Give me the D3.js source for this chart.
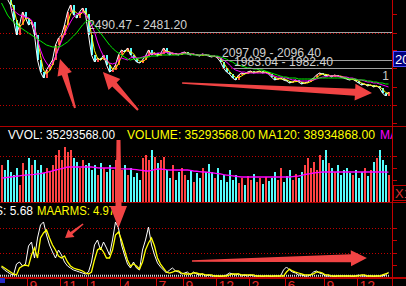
<!DOCTYPE html>
<html><head><meta charset="utf-8">
<script src="https://cdn.jsdelivr.net/npm/d3@7"></script>
<style>html,body{margin:0;padding:0;background:#000;overflow:hidden}svg{display:block}</style>
</head><body>
<script>
// ---------- DATA ----------
const closes = [
 3050,2980,2950,2870,2659,2448,2589,2771,2687,2589,
 2631,2448,2097,1928,1844,1957,2027,2097,2308,2406,
 2448,2589,2771,2870,2729,2687,2771,2828,2743,2448,
 2167,2069,2125,2097,2167,2027,1928,1957,2027,2167,
 2238,2209,2266,2167,2125,2069,2055,2097,2153,2238,
 2167,2195,2153,2181,2266,2209,2167,2195,2181,2167,
 2195,2209,2181,2167,2181,2167,2153,2181,2167,2153,
 2139,2153,2125,2069,1985,1928,1900,1844,1816,1886,
 1914,1900,1928,1942,1914,1928,1942,1914,1928,1900,
 1858,1816,1830,1844,1816,1802,1774,1788,1816,1788,
 1760,1774,1788,1816,1844,1886,1914,1900,1872,1886,
 1858,1886,1872,1858,1844,1830,1816,1830,1802,1774,
 1746,1760,1732,1746,1718,1732,1704,1633,1591,1647
];
const maMid = [
 null,null,null,2828,2800,2757,2729,2715,2701,2687,
 2659,2547,2378,2238,2125,2055,1999,2055,2139,2252,
 2364,2462,2547,2631,2701,2743,2757,2771,2729,2673,
 2589,2490,2350,2238,2153,2097,2055,2041,2055,2097,
 2125,2111,2097,2125,2139,2125,2125,2139,2153,2167,
 2181,2181,2195,2195,2195,2209,2195,2195,2181,2181,
 2195,2195,2181,2181,2181,2167,2167,2181,2167,2167,
 2153,2153,2139,2125,2097,2069,2027,1985,1957,1942,
 1928,1928,1914,1914,1914,1914,1914,1914,1914,1900,
 1886,1872,1858,1858,1844,1844,1830,1816,1816,1802,
 1802,1802,1802,1816,1816,1830,1844,1858,1858,1872,
 1872,1872,1872,1858,1858,1858,1844,1844,1830,1816,
 1816,1802,1788,1788,1774,1774,1760,1746,1732,1718
];
const maLong = [
 2898,2814,2729,2673,2631,2589,2561,2533,2504,2476,
 2448,2420,2392,2364,2336,2308,2294,2280,2280,2280,
 2294,2322,2350,2392,2434,2476,2533,2589,2631,2659,
 2631,2589,2533,2476,2420,2364,2308,2266,2223,2195,
 2167,2139,2111,2097,2111,2111,2125,2125,2139,2139,
 2153,2153,2153,2167,2167,2167,2167,2167,2167,2167,
 2181,2181,2181,2181,2167,2167,2167,2167,2167,2167,
 2153,2153,2153,2139,2125,2111,2083,2069,2041,2027,
 2013,1999,1985,1985,1971,1971,1957,1957,1942,1928,
 1914,1900,1886,1872,1858,1858,1844,1844,1844,1830,
 1830,1830,1830,1830,1830,1844,1844,1844,1844,1844,
 1844,1844,1844,1844,1844,1844,1830,1830,1830,1816,
 1816,1816,1802,1802,1788,1788,1774,1774,1760,1760
];
const volumes = [
 48,41.6,54.6,39,35,44,22,50.7,41.6,57,
 48,54.6,41.6,48,37.7,44,39,48,61,67.6,
 54.6,71.5,65,67.6,57,52,44,54.6,48,50.7,
 41.6,48,35,50.7,44,39,48,41.6,54.6,67.6,
 41.6,48,35,44,32.5,37.7,28.6,57,61,54.6,
 67.6,58.5,50.7,54.6,58.5,41.6,31.2,48,28.6,39,
 44,35,28.6,41.6,26,37.7,31.2,44,39,49.4,
 39,31.2,44,28.6,35,26,41.6,28.6,35,24.7,
 31.2,22,33.8,28.6,36.4,26,31.2,23.4,32.5,27.3,
 31.2,39,28.6,44,26,33.8,41.6,28.6,36.4,31.2,
 39,48,57,44,52,41.6,61,54.6,67.6,50.7,
 44,39,48,35,41.6,44,37.7,35,41.6,31.2,
 39,44,33.8,41.6,52,57,67.6,54.6,48,35.29
];
const volMA = [
 31.2,31.5,32,32.5,33,33.5,34,34.5,35,35.3,
 35.6,36,36.5,37,37.7,38.5,39.5,40.5,41.6,42.5,
 43.5,44.5,45.5,45.5,45.5,45.5,45.5,45.5,45.5,45.5,
 45.5,45,44.5,44.2,44.2,44.2,44.2,44.2,44.2,43.5,
 43,43,42.9,42.9,42.5,42,41.5,41,40.3,40.3,
 41,42,42.9,42.9,42.5,42,41.6,41.6,41.6,41.6,
 41.6,41.6,41.6,41,40.3,40,39.5,39,39,38.5,
 38,37.5,37,36.5,35.5,35,34.5,34,33.5,33,
 32.5,32.5,32.5,32.5,32.5,32.5,32.5,32.5,32.5,32.5,
 32.5,32.5,32.5,32.5,32.5,32.5,32.5,33,33.5,33.8,
 34.5,35.5,36.4,37,37.7,38.2,38.6,39,39,39,
 39,39,39,39,39,39,39,39,39,39,
 39,39,39,39,39,39,39,39,38.9,38.93
];
const arms = [
 12.3,8.6,6.1,3.7,2.5,15.9,18.4,13.5,15.9,38.0,
 42.9,23.3,47.8,63.8,67.5,51.5,39.3,30.7,23.3,33.1,
 27.0,18.4,13.5,11.0,8.6,7.4,6.1,4.9,3.7,6.1,
 18.4,39.3,45.4,33.1,42.9,35.6,27.0,45.4,67.5,60.1,
 39.3,27.0,15.9,11.0,18.4,11.0,8.6,33.1,45.4,61.3,
 39.3,27.0,17.2,12.3,8.6,4.9,8.6,11.0,7.4,6.1,
 3.7,4.9,6.1,2.5,6.1,3.7,2.5,3.7,1.2,2.5,
 1.2,1.2,1.2,0.6,1.2,2.5,4.9,3.7,2.5,3.7,
 1.2,2.5,1.2,2.5,1.2,1.2,1.2,0.6,1.2,1.2,
 0.6,1.2,1.2,1.2,8.6,12.3,8.6,6.1,4.9,2.5,
 2.5,1.2,1.2,2.5,6.1,7.4,4.9,3.7,1.2,1.2,
 1.2,0.6,1.2,1.2,1.2,1.2,1.2,0.6,1.2,2.5,
 1.2,1.2,1.2,1.2,0.6,1.2,1.2,1.2,2.5,5.68
];
const maArms = [
 13.5,11.0,8.6,6.1,3.7,2.5,11.0,13.5,14.7,13.5,
 27.0,35.6,23.3,47.8,54.0,57.7,47.8,39.3,33.1,25.8,
 23.3,25.8,18.4,13.5,11.0,9.8,8.6,7.4,4.9,3.7,
 6.1,20.9,33.1,35.6,30.7,23.3,23.3,33.1,51.5,55.2,
 45.4,33.1,20.9,13.5,15.9,13.5,9.8,18.4,33.1,41.7,
 47.8,38.0,23.3,15.9,11.0,6.1,4.9,6.1,7.4,7.4,
 4.9,3.7,3.7,3.7,4.9,4.9,3.7,3.7,2.5,2.5,
 2.5,1.2,1.2,1.2,1.2,1.2,2.5,3.7,3.7,3.7,
 2.5,2.5,2.5,2.5,2.5,1.2,1.2,1.2,1.2,1.2,
 1.2,1.2,1.2,1.2,1.2,6.1,9.8,7.4,6.1,4.9,
 3.7,2.5,2.5,2.5,3.7,6.1,6.1,4.9,2.5,2.5,
 1.2,1.2,1.2,1.2,1.2,1.2,1.2,1.2,1.2,1.2,
 2.5,2.5,1.2,1.2,1.2,1.2,1.2,2.5,3.7,4.97
];
const monthTicks = [9,20,29,40,52,61,72,83,95,108,119];
const monthLabels = ["9","11","1","4","7","9","12","2","6","9","12"];
const priceLevels = [2490.47, 2097.09, 1983.04];
const priceLevelLabels = ["2490.47 - 2481.20","2097.09 - 2096.40","1983.04 - 1982.40"];
const priceGrid = [2476, 1985, 1465];
const priceTicks = [2743, 2476, 2238, 1985, 1718, 1465, 1212];
const volGrid = [60];
const volTicks = [60, 44, 29, 14];
const armsGrid = [60, 30];
const armsTicks = [60, 45, 30, 15];
// annotation arrows in data units: [panel, fromIndex, fromValue, toIndex, toValue]
const arrowNotes = [
 ["p",25,1423,20,2111],
 ["p",46,1395,34.3,1928],
 ["p",60.7,1774,124,1633],
 ["v",39.5,80.6,39.5,-33.8],
 ["a",27.7,65.0,21.7,47.8],
 ["a",64,19.6,122.3,23.3]
];

// ---------- CHART ----------
const W=406,H=286;
const svg=d3.select("body").append("svg").attr("width",W).attr("height",H).style("background","#000");
const x=d3.scaleLinear().domain([0,130]).range([0,390]);
const yP=d3.scaleLinear().domain([1169.8,2940]).range([126,0]);
const yV=d3.scaleLinear().domain([0,98.8]).range([202,126]);
const yA=d3.scaleLinear().domain([0,92]).range([277,202]);
const FONT='"Liberation Sans", Arial, sans-serif';
const RED='#ff4242', CYAN='#54fcfc', GRID='#c00000', AXIS='#c40000';

const defs=svg.append("defs");
defs.append("clipPath").attr("id","cp").append("rect").attr("x",0).attr("y",0).attr("width",392).attr("height",126);
defs.append("clipPath").attr("id","cv").append("rect").attr("x",0).attr("y",127).attr("width",392).attr("height",75);
defs.append("clipPath").attr("id","ca").append("rect").attr("x",0).attr("y",203).attr("width",392).attr("height",74);

function dotted(g,y){
  g.append("line").attr("x1",0).attr("x2",392).attr("y1",Math.round(y)+0.5).attr("y2",Math.round(y)+0.5)
   .attr("stroke",GRID).attr("stroke-dasharray","1,2");
}
const up = closes.map((c,i)=> i===0 ? true : c>=closes[i-1]);

// ---- price panel ----
const gp=svg.append("g").attr("clip-path","url(#cp)");
priceGrid.forEach(v=>dotted(gp,yP(v)));
gp.selectAll("rect.c").data(closes).enter().append("rect")
  .attr("x",(d,i)=>Math.round(x(i))+0.5).attr("width",2)
  .attr("y",(d,i)=>{const o=i?closes[i-1]:d;return Math.min(yP(o),yP(d));})
  .attr("height",(d,i)=>{const o=i?closes[i-1]:d;return Math.max(1,Math.abs(yP(o)-yP(d)));})
  .attr("fill",(d,i)=>up[i]?RED:CYAN).attr("shape-rendering","crispEdges");
const ma3 = closes.map((c,i)=>d3.mean(closes.slice(Math.max(0,i-2),i+1)));
const lineP=d3.line().defined(d=>d!=null).x((d,i)=>x(i+0.5)).y(d=>yP(d));
gp.append("path").attr("d",lineP(closes)).attr("fill","none").attr("stroke","#ffffff").attr("stroke-width",1);
gp.append("path").attr("d",lineP(ma3)).attr("fill","none").attr("stroke","#ffff00").attr("stroke-width",1);
gp.append("path").attr("d",lineP(maMid)).attr("fill","none").attr("stroke","#ff00ff").attr("stroke-width",1);
gp.append("path").attr("d",lineP(maLong)).attr("fill","none").attr("stroke","#00ee00").attr("stroke-width",1);

// price level lines + labels
const lvlX=[88,222,234], lvlBase=[28.5,57,65.5];
priceLevels.forEach((v,k)=>{
  svg.append("line").attr("x1",lvlX[k]).attr("x2",392).attr("y1",Math.round(yP(v))+0.5).attr("y2",Math.round(yP(v))+0.5)
    .attr("stroke","#a0a0a0");
  svg.append("text").attr("x",lvlX[k]).attr("y",lvlBase[k]).text(priceLevelLabels[k])
    .attr("font-family",FONT).attr("font-size",13.5).attr("fill","#d0d0d0")
    .attr("textLength",99).attr("lengthAdjust","spacingAndGlyphs");
});
svg.append("text").attr("x",389).attr("y",80).attr("text-anchor","end").text("1")
  .attr("font-family",FONT).attr("font-size",12).attr("fill","#c8c8c8");

// ---- volume panel ----
const gv=svg.append("g").attr("clip-path","url(#cv)");
volGrid.forEach(v=>dotted(gv,yV(v)));
gv.selectAll("rect.v").data(volumes).enter().append("rect")
  .attr("x",(d,i)=>Math.round(x(i))+0.5).attr("width",2)
  .attr("y",d=>yV(d)).attr("height",d=>yV(0)-yV(d))
  .attr("fill",(d,i)=>up[i]?RED:CYAN).attr("shape-rendering","crispEdges");
const lineV=d3.line().x((d,i)=>x(i+0.5)).y(d=>yV(d));
gv.append("path").attr("d",lineV(volMA)).attr("fill","none").attr("stroke","#ff00ff").attr("stroke-width",1.3);
const gvt=svg.append("g").attr("clip-path","url(#cv)").attr("font-family",FONT).attr("font-size",12);
gvt.append("text").attr("x",8).attr("y",139).text("VVOL: 35293568.00").attr("fill","#ffffff").attr("textLength",107).attr("lengthAdjust","spacingAndGlyphs");
gvt.append("text").attr("x",127).attr("y",139).text("VOLUME: 35293568.00").attr("fill","#ffff00").attr("textLength",128).attr("lengthAdjust","spacingAndGlyphs");
gvt.append("text").attr("x",258).attr("y",139).text("MA120: 38934868.00").attr("fill","#ffff00").attr("textLength",117).attr("lengthAdjust","spacingAndGlyphs");
gvt.append("text").attr("x",380).attr("y",139).text("MA").attr("fill","#ff00ff");

// ---- ARMS panel ----
const ga=svg.append("g").attr("clip-path","url(#ca)");
armsGrid.forEach(v=>dotted(ga,yA(v)));
ga.append("line").attr("x1",0).attr("x2",390).attr("y1",275.8).attr("y2",275.8)
  .attr("stroke","#d8d8d8").attr("stroke-width",2).attr("stroke-dasharray","1,1");
const lineA=d3.line().x((d,i)=>x(i+0.5)).y(d=>yA(d));
ga.append("path").attr("d",lineA(arms)).attr("fill","none").attr("stroke","#ffffff").attr("stroke-width",1);
ga.append("path").attr("d",lineA(maArms)).attr("fill","none").attr("stroke","#ffff00").attr("stroke-width",1.3);
const gat=svg.append("g").attr("font-family",FONT).attr("font-size",12);
gat.append("text").attr("x",33).attr("y",215).attr("text-anchor","end").text("ARMS: 5.68").attr("fill","#ffffff");
gat.append("text").attr("x",37).attr("y",215).text("MAARMS: 4.97").attr("fill","#ffff00").attr("textLength",78).attr("lengthAdjust","spacingAndGlyphs");

// ---- frame / axes ----
[126.5,202.5].forEach(y=>svg.append("line").attr("x1",0).attr("x2",W).attr("y1",y).attr("y2",y).attr("stroke","#b00000"));
svg.append("line").attr("x1",0).attr("x2",W).attr("y1",278).attr("y2",278).attr("stroke","#b80000").attr("stroke-width",2);
svg.append("line").attr("x1",392.5).attr("x2",392.5).attr("y1",0).attr("y2",H).attr("stroke",AXIS);
const rt=svg.append("g").attr("stroke",AXIS);
priceTicks.forEach(v=>rt.append("line").attr("x1",392).attr("x2",397).attr("y1",Math.round(yP(v))+0.5).attr("y2",Math.round(yP(v))+0.5));
volTicks.forEach(v=>rt.append("line").attr("x1",392).attr("x2",397).attr("y1",Math.round(yV(v))+0.5).attr("y2",Math.round(yV(v))+0.5));
armsTicks.forEach(v=>rt.append("line").attr("x1",392).attr("x2",397).attr("y1",Math.round(yA(v))+0.5).attr("y2",Math.round(yA(v))+0.5));

// month axis
monthTicks.forEach((t,k)=>{
  const xx=Math.round(x(t))+0.5;
  svg.append("line").attr("x1",xx).attr("x2",xx).attr("y1",278).attr("y2",H).attr("stroke","#d00000");
  svg.append("text").attr("x",xx+2).attr("y",291).text(monthLabels[k])
    .attr("font-family",FONT).attr("font-size",14).attr("fill","#e02828");
});
svg.append("rect").attr("x",0).attr("y",278).attr("width",5).attr("height",5).attr("fill","#2828c8");

// right-side boxes
svg.append("rect").attr("x",393.5).attr("y",51.5).attr("width",14).attr("height",15).attr("fill","#000080").attr("stroke","#5050ff");
svg.append("text").attr("x",395).attr("y",64).text("20").attr("font-family",FONT).attr("font-size",13).attr("fill","#ffffff");
svg.append("rect").attr("x",393.5).attr("y",185.5).attr("width",14).attr("height",15).attr("fill","#000").attr("stroke","#c00000");
svg.append("text").attr("x",395).attr("y",198).text("X1").attr("font-family",FONT).attr("font-size",13).attr("fill","#d83030");

// ---- annotation arrows ----
const scaleFor={p:yP,v:yV,a:yA};
const arrowSize={p:[[2,6,15,16],[2,6,16,17],[1.5,7,17,17]],v:[[4,6,17,22]],a:[[1.5,3,10,8],[1.5,8,16,16]]};
const cnt={p:0,v:0,a:0};
function arrowPts(x1,y1,x2,y2,tw,sw,hw,hl){
  const dx=x2-x1,dy=y2-y1,L=Math.hypot(dx,dy),ux=dx/L,uy=dy/L,nx=-uy,ny=ux;
  const bx=x2-ux*hl,by=y2-uy*hl;
  return [[x1+nx*tw/2,y1+ny*tw/2],[bx+nx*sw/2,by+ny*sw/2],[bx+nx*hw/2,by+ny*hw/2],[x2,y2],
          [bx-nx*hw/2,by-ny*hw/2],[bx-nx*sw/2,by-ny*sw/2],[x1-nx*tw/2,y1-ny*tw/2]];
}
arrowNotes.forEach(n=>{
  const ys=scaleFor[n[0]], sz=arrowSize[n[0]][cnt[n[0]]++];
  const pts=arrowPts(x(n[1]),ys(n[2]),x(n[3]),ys(n[4]),...sz);
  svg.append("path").attr("d","M"+pts.map(p=>p.join(",")).join("L")+"Z").attr("fill","#f04444");
});
</script>
</body></html>
